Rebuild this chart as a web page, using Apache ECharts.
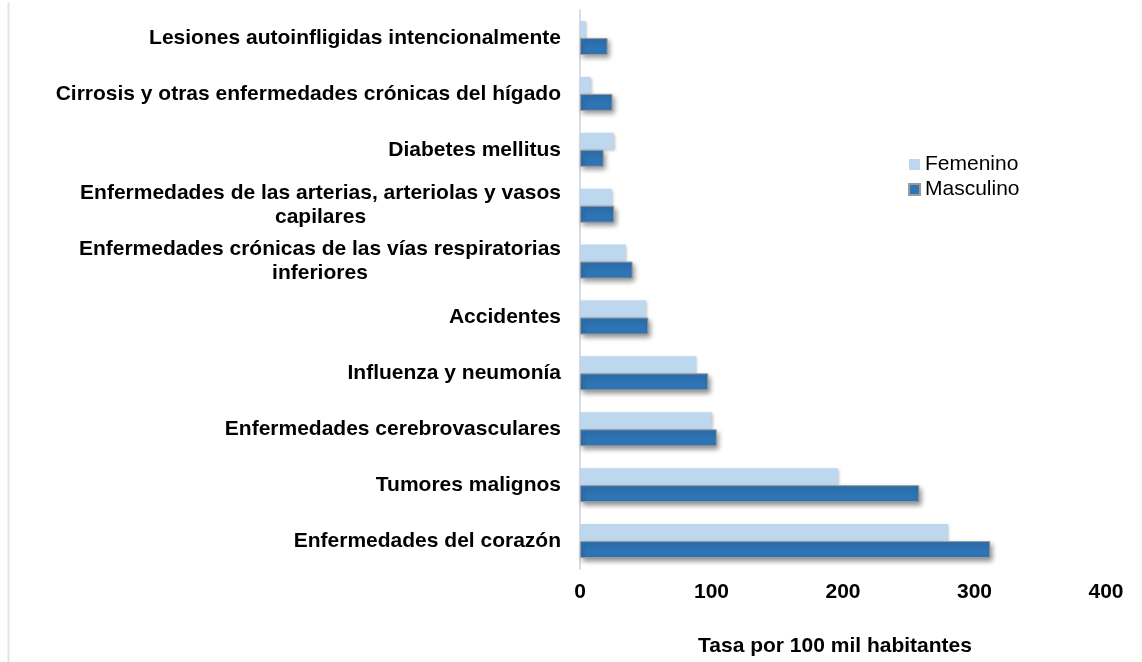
<!DOCTYPE html>
<html>
<head>
<meta charset="utf-8">
<script src="https://cdn.jsdelivr.net/npm/echarts@6/dist/echarts.min.js"></script>
<style>
  html, body { margin: 0; padding: 0; background: #fff; }
  #chart { width: 1142px; height: 662px; }
</style>
</head>
<body>
<div id="chart"></div>
<script>
// categorías de abajo hacia arriba
const categorias = [
  'Enfermedades del corazón',
  'Tumores malignos',
  'Enfermedades cerebrovasculares',
  'Influenza y neumonía',
  'Accidentes',
  'Enfermedades crónicas de las vías respiratorias\ninferiores',
  'Enfermedades de las arterias, arteriolas y vasos\ncapilares',
  'Diabetes mellitus',
  'Cirrosis y otras enfermedades crónicas del hígado',
  'Lesiones autoinfligidas intencionalmente'
]
const femenino = [280, 196, 100, 88.5, 50, 35, 24, 25.5, 8, 4.2]
const masculino = [312, 258, 104, 97.5, 52, 40, 26, 18, 24.7, 21]
const ticksX = [0, 100, 200, 300, 400]

const fuente = 'Liberation Sans, Arial, sans-serif'
const myChart = echarts.init(document.getElementById('chart'))

const option = {
  animation: false,
  backgroundColor: '#fff',
  textStyle: { fontFamily: fuente },
  graphic: [{
    type: 'line',
    left: 6,
    top: 0,
    shape: { x1: 0, y1: 0, x2: 0, y2: 662 },
    style: { stroke: '#dfe5eb', lineWidth: 2 }
  }],
  legend: {
    data: ['Femenino', 'Masculino'],
    orient: 'vertical',
    left: 903,
    top: 149,
    icon: 'rect',
    itemWidth: 11,
    itemHeight: 11,
    itemGap: 4,
    textStyle: { fontSize: 21, color: '#000', fontFamily: fuente }
  },
  grid: {
    left: 580,
    right: 36,
    top: 10,
    bottom: 93
  },
  xAxis: {
    type: 'value',
    min: 0,
    max: 400,
    interval: 100,
    axisLine: { show: false },
    axisTick: { show: false },
    splitLine: { show: false },
    axisLabel: {
      margin: 13,
      fontSize: 21,
      fontWeight: 'bold',
      color: '#000',
      formatter: v => ticksX.includes(v) ? String(v) : ''
    },
    name: 'Tasa por 100 mil habitantes',
    nameLocation: 'middle',
    nameGap: 67,
    nameTextStyle: { fontSize: 21, fontWeight: 'bold', color: '#000', padding: [0, 16, 0, 0] }
  },
  yAxis: {
    type: 'category',
    data: categorias,
    axisLine: { show: true, lineStyle: { color: '#d9dee4', width: 2 } },
    axisTick: { show: false },
    axisLabel: {
      margin: 19,
      formatter: v => v.split('\n').map(s => '{c|' + s + '}').join('\n'),
      rich: {
        c: {
          align: 'center',
          fontSize: 21,
          fontWeight: 'bold',
          color: '#000',
          lineHeight: 24,
          fontFamily: fuente
        }
      }
    }
  },
  series: [
    {
      name: 'Femenino',
      type: 'bar',
      data: femenino,
      barWidth: 17,
      barGap: '0%',
      itemStyle: {
        color: '#bdd7ee',
        shadowColor: 'rgba(0,0,0,0.25)',
        shadowBlur: 3,
        shadowOffsetX: 1,
        shadowOffsetY: 1
      }
    },
    {
      name: 'Masculino',
      type: 'bar',
      data: masculino,
      barWidth: 17,
      barGap: '0%',
      itemStyle: {
        color: '#2e75b6',
        borderColor: '#9a9a9a',
        borderWidth: 1,
        shadowColor: 'rgba(0,0,0,0.45)',
        shadowBlur: 5,
        shadowOffsetX: 2,
        shadowOffsetY: 3
      }
    }
  ]
}
option && myChart.setOption(option)
</script>
</body>
</html>
